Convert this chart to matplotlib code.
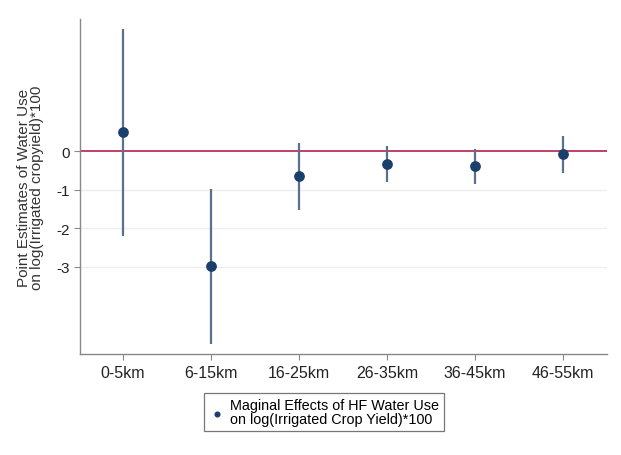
import numpy as np
import matplotlib
matplotlib.use('Agg')
import matplotlib.pyplot as plt

# distance bands and marginal effect estimates with 95% CI
bands = ['0-5km', '6-15km', '16-25km', '26-35km', '36-45km', '46-55km']
estimates = [0.49, -2.99, -0.65, -0.34, -0.39, -0.08]
ci_low = [-2.20, -5.01, -1.53, -0.80, -0.86, -0.57]
ci_high = [3.17, -0.99, 0.21, 0.13, 0.05, 0.39]
yticks = [0, -1, -2, -3]

plt.rcParams['font.family'] = ['Liberation Sans', 'DejaVu Sans']

fig = plt.figure(figsize=(6.21, 4.56), dpi=100)
ax = fig.add_axes([80/621, 1 - 355/456, 527/621, 335/456])

x = np.arange(len(bands))
est = np.array(estimates)
lo = np.array(ci_low)
hi = np.array(ci_high)

for yv in yticks[1:]:
    ax.axhline(yv, color='#eeeeee', lw=1, zorder=0)
ax.axhline(0, color='#b5204a', lw=1.2, zorder=1)

ax.vlines(x, lo, hi, color='#5b7189', lw=1.6, zorder=2)
ax.scatter(x, est, s=45, color='#1a3f6a', zorder=3,
           label='Maginal Effects of HF Water Use\non log(Irrigated Crop Yield)*100')

ax.set_xlim(-0.49, 5.5)
ax.set_ylim(-5.27, 3.43)
ax.set_xticks(x)
ax.set_xticklabels(bands, fontsize=11.5, color='#222222')
ax.set_yticks(yticks)
ax.set_yticklabels([str(v) for v in yticks], fontsize=11, color='#222222')
ax.tick_params(axis='y', length=4, color='#888888', pad=3)
ax.tick_params(axis='x', length=4, color='#888888', pad=4)

for side in ['top', 'right']:
    ax.spines[side].set_visible(False)
for side in ['left', 'bottom']:
    ax.spines[side].set_color('#888888')
    ax.spines[side].set_linewidth(1.0)

ax.set_ylabel('Point Estimates of Water Use\non log(Irrigated cropyield)*100',
              fontsize=11, color='#333333', labelpad=9, linespacing=0.95)

leg = fig.legend(loc='center', bbox_to_anchor=(324/621, 1 - 413/456),
                 fontsize=10.4, frameon=True, fancybox=False, handletextpad=0.3,
                 borderpad=0.35, handlelength=1.2, markerscale=0.5)
leg.get_frame().set_edgecolor('#555555')
leg.get_frame().set_linewidth(0.9)
for t in leg.get_texts():
    t.set_linespacing(0.95)

fig.savefig('out.png', dpi=100, facecolor='white')
